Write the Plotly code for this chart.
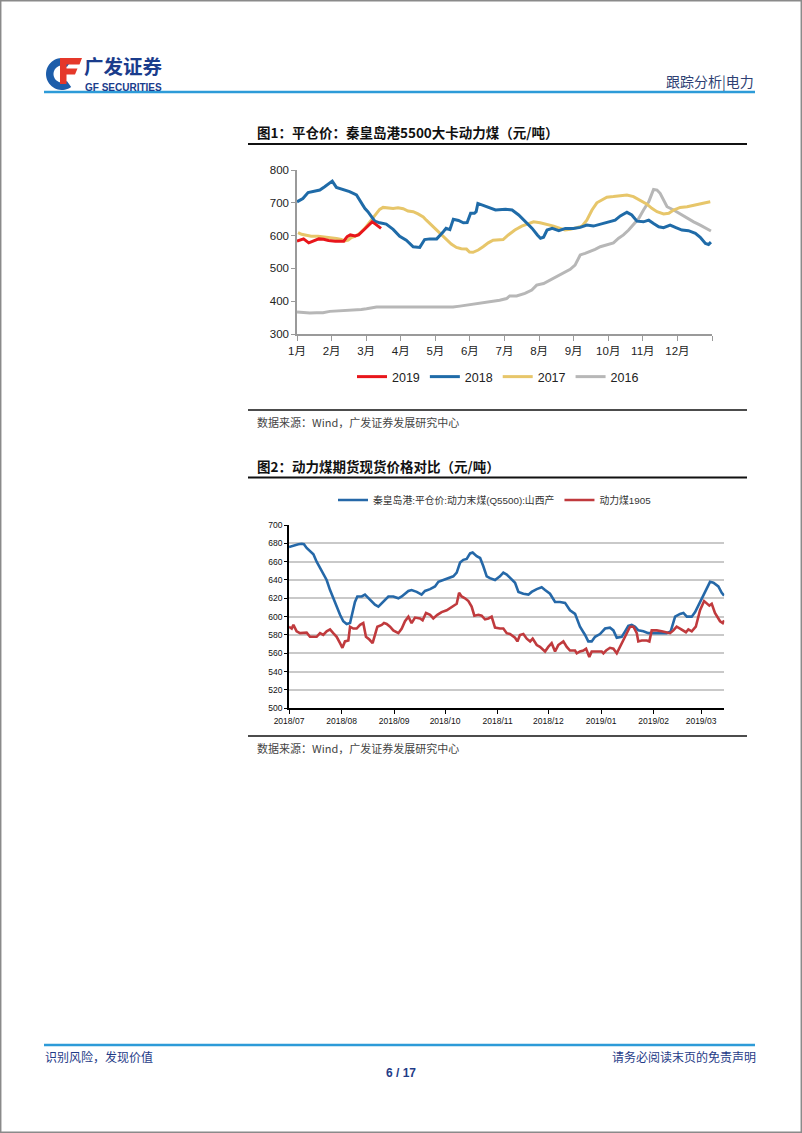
import math
import pandas as pd
import plotly.graph_objects as go

W, H = 802, 1133


def X(p):
    return p / W


def Y(p):
    return 1 - p / H


# ---------------- Chart 1 data (x = month index, 0 = 1月) ----------------
month_labels = ["1月", "2月", "3月", "4月", "5月", "6月", "7月", "8月", "9月", "10月", "11月", "12月"]

m2019 = [0.00, 0.19, 0.34, 0.48, 0.63, 0.77, 0.91, 1.11, 1.35, 1.45, 1.54, 1.68, 1.78, 1.93, 2.07, 2.17, 2.27,
         2.36, 2.43]
v2019 = [583, 590, 578, 583, 590, 589, 585, 583, 583, 597, 602, 599, 602, 617, 632, 642, 635, 627, 622]

m2018 = [0.00, 0.17, 0.32, 0.46, 0.66, 0.80, 0.95, 1.02, 1.14, 1.33, 1.52, 1.72, 1.81, 1.96, 2.05, 2.15, 2.25,
         2.39, 2.58, 2.78, 2.97, 3.16, 3.36, 3.55, 3.69, 3.84, 4.04, 4.23, 4.31, 4.42, 4.52, 4.67, 4.81, 4.92,
         5.02, 5.13, 5.18, 5.23, 5.35, 5.55, 5.74, 6.03, 6.22, 6.41, 6.61, 6.80, 6.95, 7.04, 7.13, 7.23, 7.38,
         7.57, 7.76, 7.99, 8.19, 8.38, 8.57, 8.77, 8.96, 9.20, 9.35, 9.54, 9.68, 9.83, 10.02, 10.17, 10.31,
         10.46, 10.60, 10.79, 10.94, 11.13, 11.32, 11.52, 11.66, 11.81, 11.90, 11.97]
v2018 = [703, 713, 731, 734, 739, 749, 759, 766, 747, 741, 734, 724, 708, 683, 673, 657, 644, 639, 635, 619,
         598, 586, 566, 564, 588, 590, 590, 612, 622, 618, 650, 646, 639, 640, 668, 668, 673, 698, 693, 685,
         678, 680, 678, 663, 642, 622, 602, 592, 595, 617, 622, 615, 622, 622, 625, 632, 629, 635, 642, 647,
         660, 671, 663, 644, 642, 647, 637, 627, 624, 632, 625, 617, 615, 607, 595, 576, 573, 580]

m2017 = [0.03, 0.13, 0.27, 0.41, 0.61, 0.80, 0.99, 1.14, 1.28, 1.38, 1.48, 1.57, 1.67, 1.81, 1.96, 2.10, 2.25,
         2.39, 2.49, 2.63, 2.78, 2.92, 3.07, 3.21, 3.36, 3.50, 3.65, 3.74, 3.89, 4.03, 4.18, 4.32, 4.46, 4.61,
         4.75, 4.90, 4.99, 5.09, 5.24, 5.38, 5.53, 5.67, 5.81, 5.96, 6.11, 6.30, 6.50, 6.69, 6.84, 7.03, 7.22,
         7.42, 7.61, 7.75, 7.90, 8.09, 8.24, 8.38, 8.53, 8.67, 8.81, 8.96, 9.15, 9.35, 9.54, 9.73, 9.92, 10.12,
         10.26, 10.41, 10.60, 10.75, 10.89, 11.08, 11.28, 11.47, 11.66, 11.81, 11.95]
v2017 = [609, 604, 601, 598, 598, 596, 593, 591, 588, 584, 586, 594, 598, 606, 622, 642, 663, 680, 686, 685,
         683, 685, 682, 675, 673, 666, 657, 647, 632, 617, 601, 586, 574, 564, 560, 559, 550, 549, 556, 566,
         578, 586, 588, 588, 602, 617, 629, 637, 642, 639, 635, 629, 622, 617, 619, 625, 629, 647, 678, 700,
         709, 717, 719, 721, 724, 719, 709, 696, 683, 673, 666, 668, 678, 686, 688, 693, 696, 700, 703]

m2016 = [0.00, 0.17, 0.37, 0.56, 0.75, 0.95, 1.14, 1.33, 1.52, 1.72, 1.86, 2.01, 2.15, 2.30, 2.49, 2.78, 3.07,
         3.36, 3.65, 3.94, 4.23, 4.51, 4.71, 4.90, 5.09, 5.28, 5.48, 5.67, 5.86, 6.06, 6.15, 6.35, 6.59, 6.79,
         6.93, 7.13, 7.32, 7.46, 7.61, 7.75, 7.90, 8.04, 8.19, 8.33, 8.48, 8.62, 8.77, 8.96, 9.15, 9.30, 9.44,
         9.59, 9.73, 9.88, 10.02, 10.17, 10.31, 10.41, 10.50, 10.60, 10.70, 10.89, 11.08, 11.28, 11.47, 11.66,
         11.86, 11.97]
v2016 = [367, 365, 364, 365, 365, 369, 370, 370, 371, 374, 375, 377, 380, 382, 382, 382, 383, 384, 383, 382,
         382, 382, 385, 388, 391, 393, 397, 401, 403, 408, 416, 416, 424, 434, 449, 454, 465, 473, 480, 488,
         497, 510, 541, 546, 551, 558, 566, 573, 578, 592, 602, 617, 635, 652, 678, 703, 741, 739, 729, 706,
         688, 678, 666, 652, 642, 632, 622, 614]

# ---------------- Chart 2 data (x = days since 2018-07-01) ----------------
spot_name = "秦皇岛港:平仓价:动力末煤(Q5500):山西产"
fut_name = "动力煤1905"

spot_days = [0, 1.6, 3.5, 5.5, 7.5, 8.8, 10.4, 12.4, 14.4, 16.3, 18.3, 20.2, 22.2, 24.2, 26.1, 28.1, 30.1, 32.0,
             34.0, 36.0, 37.0, 38.9, 40.3, 42.9, 44.8, 46.8, 48.8, 50.7, 52.7, 54.7, 56.6, 58.6, 61.5, 64.5, 66.5,
             68.4, 70.4, 72.3, 75.3, 78.2, 80.2, 83.2, 86.1, 88.1, 91.0, 94.0, 96.9, 98.9, 100.9, 102.8, 104.8,
             106.8, 108.3, 110.7, 112.7, 114.6, 116.6, 118.5, 121.5, 124.4, 126.4, 128.4, 131.3, 133.3, 135.3,
             138.2, 141.2, 143.1, 146.1, 149.0, 151.0, 153.9, 156.9, 159.8, 162.8, 165.7, 168.7, 171.6, 174.6,
             176.5, 178.5, 180.5, 183.4, 186.4, 189.3, 191.3, 193.3, 196.2, 198.2, 200.1, 202.1, 204.1, 206.0,
             209.0, 211.9, 214.9, 218.8, 222.7, 225.1, 227.7, 230.6, 232.6, 234.6, 237.5, 239.5, 242.4, 245.4,
             248.3, 250.3, 253.2, 255.2, 256.6]
spot_vals = [676, 677, 678, 679, 679.5, 679, 675, 671, 668, 660, 653, 648, 640, 629, 620, 611, 602, 595, 592, 593,
             602, 616, 622, 622, 624, 620, 617, 613, 611, 615, 619, 622, 622, 620, 622, 625, 628, 629, 627, 624,
             628, 630, 633, 638, 640, 642, 644, 648, 659, 662, 663, 669, 670, 666, 664, 655, 644, 642, 640, 644,
             648, 646, 640, 637, 627, 625, 624, 627, 630, 632, 629, 625, 616, 616, 615, 607, 603, 589, 580, 573,
             573, 578, 581, 587, 588, 585, 577, 578, 584, 590, 591, 589, 585, 584, 582, 582, 582, 582, 584, 600,
             603, 604, 600, 600, 605, 616, 627, 638, 637, 633, 626, 623]

fut_days = [0, 1.6, 2.6, 4.5, 6.5, 8.5, 10.4, 12.4, 14.4, 16.3, 18.3, 20.2, 22.2, 24.2, 26.1, 28.1, 30.1, 31.5,
            33.0, 35.0, 36.0, 37.9, 39.9, 41.9, 43.8, 45.4, 47.4, 49.3, 50.7, 52.1, 54.7, 56.0, 57.6, 59.6, 61.5,
            64.5, 66.5, 68.4, 70.4, 72.3, 74.3, 77.3, 78.8, 80.8, 83.2, 85.1, 87.5, 90.0, 93.0, 95.9, 98.9, 100.3,
            101.8, 103.8, 105.8, 107.7, 109.3, 111.7, 113.6, 115.6, 117.6, 119.5, 121.5, 124.4, 126.4, 128.4,
            130.3, 133.3, 134.7, 136.2, 138.2, 140.2, 142.2, 143.7, 146.1, 148.0, 151.0, 152.9, 154.9, 156.9,
            158.8, 161.8, 163.8, 165.7, 168.7, 169.7, 171.6, 173.6, 175.2, 177.1, 178.5, 181.5, 184.4, 185.4,
            187.0, 189.3, 191.3, 193.3, 195.2, 197.2, 199.2, 201.1, 203.1, 205.1, 206.0, 208.0, 211.0, 212.5,
            213.9, 216.9, 219.8, 222.7, 224.7, 226.7, 228.6, 230.6, 232.6, 234.1, 235.5, 237.5, 239.9, 242.4,
            244.8, 246.3, 247.9, 249.3, 251.2, 254.2, 255.8, 256.6]
fut_vals = [589, 587, 591, 584, 582, 582.5, 582.5, 578, 578, 578, 582, 580, 584, 586, 582, 578, 571, 566, 573, 574,
            589, 587, 587, 591, 593, 578, 575, 571, 580, 589, 591, 593, 592, 589, 585, 582, 587, 595, 600, 593,
            599, 598, 596, 604, 602, 598, 602, 605, 607, 610, 614, 626, 622, 620, 617, 611, 601, 602, 601, 597,
            598, 600, 588, 587, 587, 582, 581, 577, 573, 580, 581, 576, 573, 576, 569, 567, 562, 567, 571, 562,
            569, 573, 567, 563, 563, 560, 562, 563, 565, 556, 562, 562, 562, 560, 563, 566, 565, 560, 567, 576,
            582, 589, 589, 582, 573, 574, 574, 573, 585, 585, 584, 583, 582, 585, 589, 587, 585, 583, 586, 584,
            589, 607, 617, 615, 612, 614, 604, 595, 593, 596]

start = pd.Timestamp("2018-07-01")
spot_dates = start + pd.to_timedelta(spot_days, unit="D")
fut_dates = start + pd.to_timedelta(fut_days, unit="D")

CJK = "Noto Sans CJK SC"
LAT = "Liberation Sans, Arial, Noto Sans CJK SC"

fig = go.Figure()

# chart 1 (draw 2016 first so 2019 is on top)
for name, xs, ys, col in [("2016", m2016, v2016, "#B7B7B7"),
                          ("2017", m2017, v2017, "#E7C66A"),
                          ("2018", m2018, v2018, "#1F6BA8"),
                          ("2019", m2019, v2019, "#E8161B")]:
    fig.add_trace(go.Scatter(x=xs, y=ys, name=name, mode="lines",
                             line=dict(color=col, width=3), xaxis="x", yaxis="y",
                             legend="legend", hoverinfo="skip"))

# chart 2
fig.add_trace(go.Scatter(x=spot_dates, y=spot_vals, name=spot_name, mode="lines",
                         line=dict(color="#2568A8", width=2.6), xaxis="x2", yaxis="y2",
                         legend="legend2", hoverinfo="skip"))
fig.add_trace(go.Scatter(x=fut_dates, y=fut_vals, name=fut_name, mode="lines",
                         line=dict(color="#C03A3D", width=2.6), xaxis="x2", yaxis="y2",
                         legend="legend2", hoverinfo="skip"))

shapes = []


def hline(x0, x1, y, color, width):
    shapes.append(dict(type="line", xref="paper", yref="paper", x0=X(x0), x1=X(x1), y0=Y(y), y1=Y(y),
                       line=dict(color=color, width=width), layer="above"))


def poly(pts, color):
    d = "M " + " L ".join(f"{X(a):.5f},{Y(b):.5f}" for a, b in pts) + " Z"
    shapes.append(dict(type="path", xref="paper", yref="paper", path=d, fillcolor=color,
                       line=dict(width=0), layer="above"))


# page frame
shapes.append(dict(type="rect", xref="paper", yref="paper", x0=X(0.7), x1=X(801.3), y0=Y(0.7), y1=Y(1132.3),
                   line=dict(color="#8A8A8A", width=1.5), layer="above"))

# header / footer rules
hline(44, 755, 92, "#2D9BD8", 2.5)
hline(44, 755, 1045, "#2D9BD8", 2.5)

# chart frames rules
hline(248, 747, 144, "#111111", 2)
hline(248, 747, 410, "#111111", 1.5)
hline(248, 747, 477.5, "#111111", 2)
hline(248, 747, 736, "#111111", 1.5)

# logo: blue C arc + red F
cx, cy, ro, ri = 62, 74, 16, 8.5
arc = []
for k in range(0, 41):
    a = math.radians(55 + k * (250 / 40))
    arc.append((cx + ro * math.cos(a), cy - ro * math.sin(a)))
for k in range(40, -1, -1):
    a = math.radians(55 + k * (250 / 40))
    arc.append((cx + ri * math.cos(a), cy - ri * math.sin(a)))
poly(arc, "#1D5DAA")
poly([(60, 58), (82, 58), (79.5, 64.5), (66.5, 64.5), (66.5, 68.5), (77.5, 68.5), (75, 74.5), (66.5, 74.5),
      (66.5, 84), (60, 84)], "#E5382A")

annotations = []


def text(x, y, s, size, color="#222222", family=CJK, anchor="left", bold=False, yanchor="middle"):
    if bold:
        s = "<b>" + s + "</b>"
    annotations.append(dict(x=X(x), y=Y(y), xref="paper", yref="paper", text=s, showarrow=False,
                            xanchor=anchor, yanchor=yanchor, borderpad=0,
                            font=dict(size=size, color=color, family=family)))


text(83, 81, "广发证券", 19.5, "#1A3C8C", bold=True, yanchor="bottom")
text(84, 81.5, "GF SECURITIES", 10, "#1A3C8C", family="Liberation Sans, Arial", bold=True, yanchor="top")
text(755, 81.5, "跟踪分析|电力", 14, "#2E3F73", anchor="right")

text(256, 132, "图1：平仓价：秦皇岛港5500大卡动力煤（元/吨）", 13.5, "#111111", bold=True)
text(256, 421.5, "数据来源：Wind，广发证券发展研究中心", 11, "#444444")
text(256, 466.5, "图2：动力煤期货现货价格对比（元/吨）", 13.5, "#111111", bold=True)
text(256, 747.5, "数据来源：Wind，广发证券发展研究中心", 11, "#444444")

text(44, 1056, "识别风险，发现价值", 12, "#1F3C88")
text(757, 1056, "请务必阅读末页的免责声明", 12, "#1F3C88", anchor="right")
text(401, 1073, "6 / 17", 12, "#1F3C88", family="Liberation Sans, Arial", anchor="center", bold=True)

fig.update_layout(
    width=W, height=H, autosize=False,
    margin=dict(l=0, r=0, t=0, b=0, autoexpand=False),
    paper_bgcolor="white", plot_bgcolor="white",
    font=dict(family=LAT, color="#222222"),
    showlegend=True,
    xaxis=dict(domain=[X(297), X(712)], range=[0, 12], tickvals=list(range(13)),
               ticktext=month_labels + [""], ticks="outside", ticklen=5, tickwidth=1.2, tickcolor="#9A9A9A",
               showline=True, linecolor="#9A9A9A", linewidth=1.5, showgrid=False, zeroline=False,
               tickfont=dict(size=11.5, color="#222222", family=LAT), anchor="y", fixedrange=True,
               automargin=False),
    yaxis=dict(domain=[Y(334), Y(170)], range=[300, 800], dtick=100, tick0=300, ticks="outside", ticklen=4,
               tickwidth=1.2, tickcolor="#9A9A9A", showline=True, linecolor="#9A9A9A", linewidth=1.5,
               showgrid=False, zeroline=False, tickfont=dict(size=11.5, color="#222222", family=LAT),
               anchor="x", fixedrange=True, automargin=False),
    xaxis2=dict(domain=[X(289), X(724.3)], type="date", range=["2018-07-01", "2019-03-14 17:00"],
                tick0="2018-07-01", dtick="M1", tickformat="%Y/%m", ticks="outside", ticklen=4, tickwidth=1.2,
                tickcolor="#000000", showline=True, linecolor="#000000", linewidth=1.5, showgrid=False,
                zeroline=False, tickfont=dict(size=8.5, color="#111111", family=LAT), anchor="y2",
                fixedrange=True, automargin=False),
    yaxis2=dict(domain=[Y(708.3), Y(525)], range=[500, 700], dtick=20, tick0=500, ticks="outside", ticklen=3,
                tickwidth=1.2, tickcolor="#000000", showline=True, linecolor="#000000", linewidth=1.5,
                showgrid=True, gridcolor="#C9C9C9", gridwidth=1.5, zeroline=False,
                tickfont=dict(size=8.5, color="#111111", family=LAT), anchor="x2", fixedrange=True,
                automargin=False),
    legend=dict(orientation="h", x=X(352), xanchor="left", y=Y(377), yanchor="middle",
                traceorder="reversed", itemwidth=30,
                font=dict(size=12.5, color="#222222", family=LAT), bgcolor="rgba(0,0,0,0)"),
    legend2=dict(orientation="h", x=X(333), xanchor="left", y=Y(500), yanchor="middle",
                 itemwidth=30,
                 font=dict(size=9.8, color="#333333", family=LAT), bgcolor="rgba(0,0,0,0)"),
    shapes=shapes,
    annotations=annotations,
)

fig.write_html("out.html", config={"displayModeBar": False},
               post_script="document.body.style.margin='0';")
